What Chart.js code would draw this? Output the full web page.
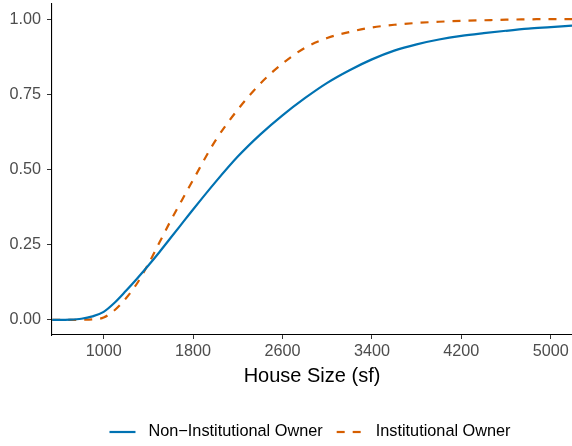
<!DOCTYPE html>
<html>
<head>
<meta charset="utf-8">
<script src="https://cdn.jsdelivr.net/npm/chart.js@4/dist/chart.umd.min.js"></script>
<style>
  html, body { margin: 0; padding: 0; background: #fff; }
  canvas { display: block; }
</style>
</head>
<body>
<canvas id="cdfChart" width="572" height="446"></canvas>
<script>
const houseSize = [540, 700, 800, 900, 1000, 1100, 1200, 1300, 1400, 1500, 1600, 1700, 1800,
  2000, 2200, 2400, 2600, 2800, 3000, 3200, 3400, 3600, 3800, 4000, 4200, 4400, 4600, 4800, 5000, 5190];
// cumulative share, non-institutional owners
const nonInstitutional = [0, 0.001, 0.004, 0.012, 0.027, 0.058, 0.097, 0.138, 0.181, 0.226, 0.273, 0.32, 0.367,
  0.458, 0.543, 0.616, 0.680, 0.737, 0.788, 0.830, 0.866, 0.895, 0.916, 0.932, 0.944, 0.953, 0.961, 0.968, 0.973, 0.978];
// cumulative share, institutional owners
const institutional = [0, 0, 0.001, 0.002, 0.008, 0.033, 0.072, 0.122, 0.186, 0.258, 0.330, 0.398, 0.465,
  0.596, 0.699, 0.785, 0.852, 0.904, 0.937, 0.957, 0.972, 0.981, 0.987, 0.991, 0.994, 0.996, 0.998, 0.999, 1.0, 1.0];
const seriesNames = ['Non\u2212Institutional Owner', 'Institutional Owner'];
const xTicks = [1000, 1800, 2600, 3400, 4200, 5000];
const yTicks = [0, 0.25, 0.5, 0.75, 1.0];

const FONT = '"Liberation Sans", Arial, Helvetica, sans-serif';

function toPoints(values) {
  return houseSize.map((x, i) => ({ x: x, y: values[i] }));
}

// ggplot-like legend drawn under the plot, centred on the panel
const bottomLegend = {
  id: 'bottomLegend',
  afterDraw(chart) {
    const ctx = chart.ctx;
    const area = chart.chartArea;
    const keyW = 26, keyGap = 13, itemGap = 14;
    ctx.save();
    ctx.font = '16.3px ' + FONT;
    const items = chart.data.datasets.map(ds => ({ ds: ds, w: ctx.measureText(ds.label).width }));
    const total = items.reduce((s, it) => s + keyW + keyGap + it.w, 0) + itemGap * (items.length - 1);
    let x = (area.left + area.right) / 2 - total / 2 - 2;
    const y = 432;
    items.forEach(it => {
      ctx.strokeStyle = it.ds.borderColor;
      ctx.lineWidth = it.ds.borderWidth;
      ctx.setLineDash(it.ds.borderDash || []);
      ctx.beginPath();
      ctx.moveTo(x, y);
      ctx.lineTo(x + keyW, y);
      ctx.stroke();
      ctx.setLineDash([]);
      ctx.fillStyle = '#000';
      ctx.textBaseline = 'middle';
      ctx.textAlign = 'left';
      ctx.fillText(it.ds.label, x + keyW + keyGap, y);
      x += keyW + keyGap + it.w + itemGap;
    });
    ctx.restore();
  }
};

const ctx = document.getElementById('cdfChart').getContext('2d');
const cdfChart = new Chart(ctx, {
  type: 'line',
  data: {
    datasets: [
      {
        label: seriesNames[0],
        data: toPoints(nonInstitutional),
        borderColor: '#0072B2',
        borderWidth: 2.2,
        pointRadius: 0,
        cubicInterpolationMode: 'monotone',
        fill: false
      },
      {
        label: seriesNames[1],
        data: toPoints(institutional),
        borderColor: '#D55E00',
        borderWidth: 2.2,
        borderDash: [8, 8],
        pointRadius: 0,
        cubicInterpolationMode: 'monotone',
        fill: false
      }
    ]
  },
  options: {
    responsive: false,
    animation: false,
    devicePixelRatio: 1,
    layout: { padding: { top: 4, right: 0, left: 0, bottom: 0 } },
    scales: {
      x: {
        type: 'linear',
        min: 538,
        max: 5190,
        afterBuildTicks: axis => { axis.ticks = xTicks.map(v => ({ value: v })); },
        afterFit: axis => { axis.height = 111; axis.paddingLeft = 0; axis.paddingRight = 0; },
        grid: { display: true, drawOnChartArea: false, drawTicks: true, tickLength: 4, color: '#333333', lineWidth: 1 },
        border: { display: true, color: '#000', width: 1.1 },
        ticks: { color: '#4D4D4D', font: { family: FONT, size: 16.2 }, padding: 3, maxRotation: 0,
          callback: v => String(v) },
        title: { display: true, text: 'House Size (sf)', color: '#000',
          font: { family: FONT, size: 20 }, padding: { top: 0, bottom: 58 } }
      },
      y: {
        type: 'linear',
        min: -0.05,
        max: 1.05,
        afterBuildTicks: axis => { axis.ticks = yTicks.map(v => ({ value: v })); },
        afterFit: axis => { axis.width = 52; axis.paddingTop = 0; axis.paddingBottom = 0; },
        grid: { display: true, drawOnChartArea: false, drawTicks: true, tickLength: 5, color: '#333333', lineWidth: 1 },
        border: { display: true, color: '#000', width: 1.1 },
        ticks: { color: '#4D4D4D', font: { family: FONT, size: 16.2 }, padding: 6,
          callback: v => Number(v).toFixed(2) }
      }
    },
    plugins: {
      legend: { display: false },
      tooltip: { enabled: false }
    }
  },
  plugins: [bottomLegend]
});
</script>
</body>
</html>
